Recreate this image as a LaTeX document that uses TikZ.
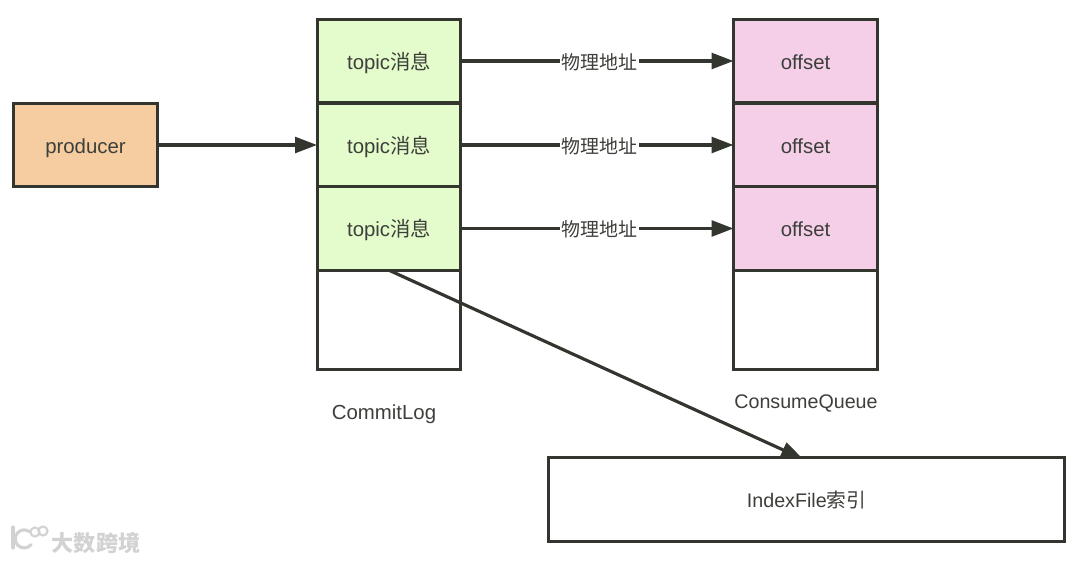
\documentclass[tikz,border=0pt]{standalone}
\usepackage{fontspec}
\setmainfont{Liberation Sans}
\newfontfamily\cjk{Noto Sans CJK SC}
\usetikzlibrary{arrows.meta}
\definecolor{edgedark}{HTML}{33362F}
\definecolor{textdark}{HTML}{3C3F3A}
\definecolor{logfill}{HTML}{E4FBCB}
\definecolor{queuefill}{HTML}{F5CEE8}
\definecolor{prodfill}{HTML}{F6CDA0}
\definecolor{markgray}{HTML}{D2D2D2}
\tikzset{
  cell/.style={draw=edgedark,line width=1.7pt,minimum width=2.88cm,minimum height=1.67cm,inner sep=0pt,outer sep=0pt,text=textdark,text height=11.5pt,text depth=2.3pt,font=\fontsize{11.6}{13}\selectfont},
  name label/.style={text=textdark,inner sep=0pt,font=\fontsize{11.6}{13}\selectfont},
  addr label/.style={fill=white,text=textdark,inner sep=1pt,text height=11.5pt,text depth=2.3pt,font=\fontsize{10.8}{13}\selectfont\cjk},
  link/.style={draw=edgedark,line width=1.8pt,-{Triangle[length=12.5pt,width=9pt]}}
}
\begin{document}
\begin{tikzpicture}[x=0.02cm,y=0.02cm]
\useasboundingbox (0,0) rectangle (1080,562);
%%Producer
\node[cell,fill=prodfill,minimum width=2.9cm] (producer) at (85.5,417) {producer};
%%CommitLog
\node[cell,fill=logfill] (topic1) at (389,501) {topic{\cjk 消息}};
\node[cell,fill=logfill] (topic2) at (389,417) {topic{\cjk 消息}};
\node[cell,fill=logfill] (topic3) at (389,333.5) {topic{\cjk 消息}};
\node[cell,minimum height=2cm] (logrest) at (389,242) {};
\node[name label] (loglabel) at (384,148) {CommitLog};
%%ConsumeQueue
\node[cell,fill=queuefill] (offset1) at (805.5,501) {offset};
\node[cell,fill=queuefill] (offset2) at (805.5,417) {offset};
\node[cell,fill=queuefill] (offset3) at (805.5,333.5) {offset};
\node[cell,minimum height=2cm] (queuerest) at (805.5,242) {};
\node[name label,font=\fontsize{11.2}{13}\selectfont] (queuelabel) at (806,159) {ConsumeQueue};
%%IndexFile
\node[cell,minimum width=10.34cm,font=\fontsize{11.2}{13}\selectfont] (index) at (806.5,62.5) {IndexFile{\cjk 索引}};
\coordinate (indextip) at (803,103);
%%Arrows
\draw[link] (producer.east) -- (topic2.west);
\draw[link] (topic1.east) -- node[addr label,pos=0.508] (addr1) {物理地址} (offset1.west);
\draw[link] (topic2.east) -- node[addr label,pos=0.508] (addr2) {物理地址} (offset2.west);
\draw[link] (topic3.east) -- node[addr label,pos=0.508] (addr3) {物理地址} (offset3.west);
\draw[link] (topic3.south) -- (indextip);
%%Watermark
\draw[markgray,line width=1.8pt,line cap=round] (13,35) -- (13,14);
\draw[markgray,line width=1.8pt,line cap=round] (30,30) arc (50:320:9);
\draw[markgray,line width=1.2pt] (35,30) circle (4.5);
\draw[markgray,line width=1.2pt] (43,31) circle (4.5);
\node[text=markgray,inner sep=0pt,font=\fontsize{12.6}{14}\selectfont\cjk\bfseries] (mark) at (96,19) {大数跨境};
\end{tikzpicture}
\end{document}
